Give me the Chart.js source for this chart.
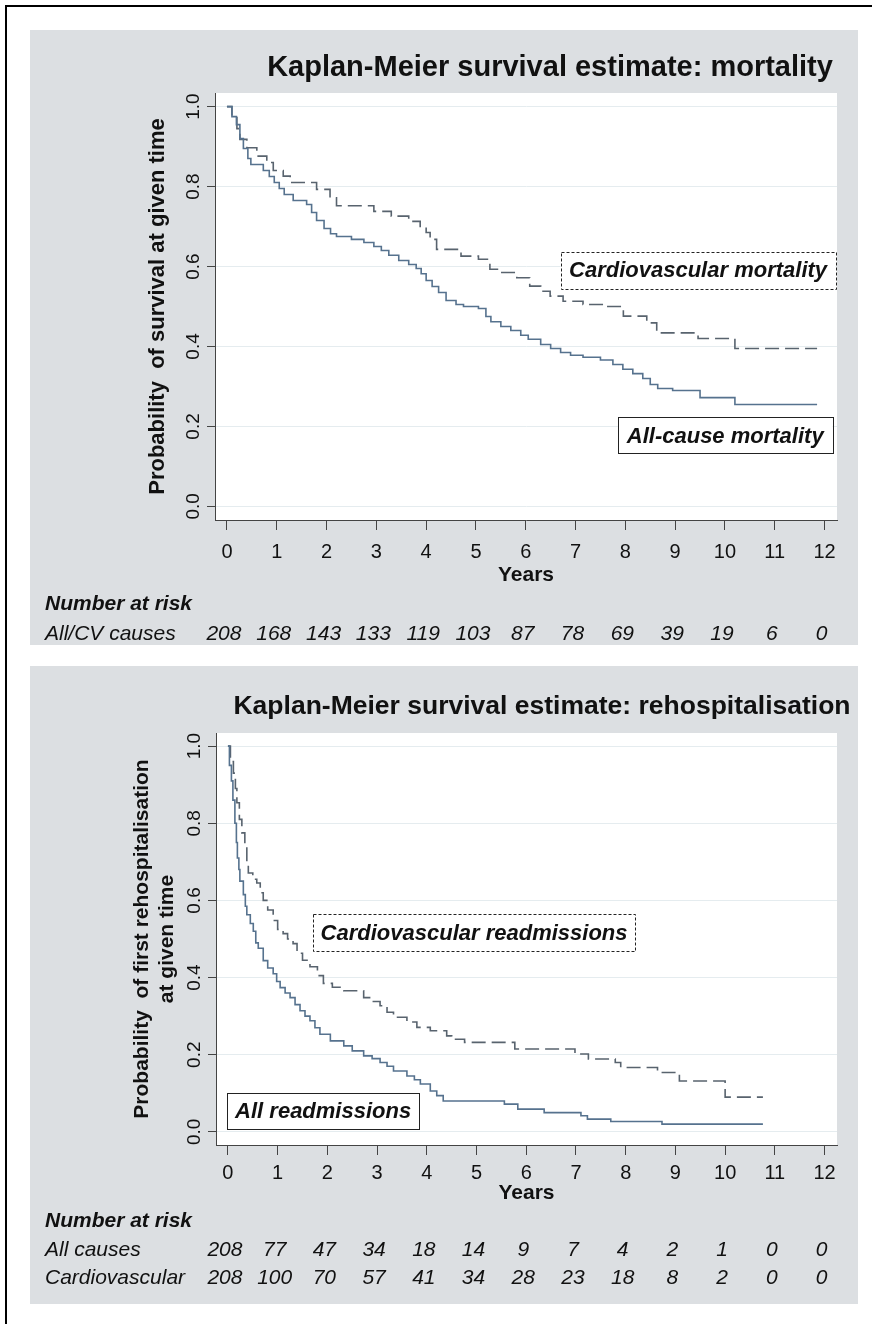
<!DOCTYPE html>
<html>
<head>
<meta charset="utf-8">
<script src="https://cdn.jsdelivr.net/npm/chart.js@4.4.0/dist/chart.umd.min.js"></script>
<style>
body { margin: 0; background: #fff; width: 872px; height: 1324px; position: relative; overflow: hidden; }
.line { position: absolute; background: #000; }
.panel { position: absolute; left: 30px; width: 828px; background: #dcdfe2; }
canvas { display: block; }
</style>
</head>
<body>
<div class="line" style="left:5px;top:5px;width:867px;height:2px"></div>
<div class="line" style="left:5px;top:5px;width:2px;height:1319px"></div>
<div class="panel" style="top:30px;height:615px"><canvas id="c1" width="828" height="615"></canvas></div>
<div class="panel" style="top:666px;height:638px"><canvas id="c2" width="828" height="638"></canvas></div>
<script>
var FONT = '"Liberation Sans", Arial, sans-serif';

var years = [0, 1, 2, 3, 4, 5, 6, 7, 8, 9, 10, 11, 12];
var yTicks = [0, 0.2, 0.4, 0.6, 0.8, 1.0];

// mortality, all causes (time of drop, survival after drop)
var allCauseTime = [0, 0.1, 0.19, 0.26, 0.33, 0.42, 0.48, 0.73, 0.85, 0.95, 1.05, 1.15, 1.33, 1.6, 1.7, 1.8, 1.95, 2.08, 2.2, 2.5, 2.75, 2.95, 3.1, 3.25, 3.45, 3.65, 3.8, 3.9, 4.0, 4.12, 4.25, 4.4, 4.6, 4.75, 5.05, 5.2, 5.3, 5.5, 5.7, 5.9, 6.05, 6.3, 6.5, 6.7, 6.9, 7.15, 7.5, 7.75, 7.95, 8.15, 8.35, 8.5, 8.65, 8.95, 9.5, 10.2, 11.85];
var allCauseSurv = [1.0, 0.975, 0.955, 0.92, 0.895, 0.87, 0.855, 0.84, 0.825, 0.81, 0.795, 0.78, 0.765, 0.755, 0.735, 0.715, 0.695, 0.682, 0.675, 0.668, 0.66, 0.65, 0.64, 0.628, 0.615, 0.605, 0.595, 0.582, 0.565, 0.55, 0.535, 0.515, 0.505, 0.5, 0.495, 0.475, 0.462, 0.45, 0.44, 0.428, 0.418, 0.405, 0.395, 0.385, 0.378, 0.373, 0.366, 0.355, 0.343, 0.332, 0.32, 0.305, 0.295, 0.29, 0.272, 0.255, 0.255];

// mortality, cardiovascular
var cvMortTime = [0, 0.1, 0.2, 0.26, 0.4, 0.6, 0.8, 0.93, 1.13, 1.27, 1.8, 2.07, 2.2, 2.95, 3.3, 3.65, 3.88, 4.0, 4.08, 4.21, 4.7, 5.05, 5.28, 5.5, 5.82, 6.08, 6.3, 6.49, 6.75, 7.15, 7.62, 7.96, 8.43, 8.63, 9.46, 10.2, 11.85];
var cvMortSurv = [1.0, 0.975, 0.945, 0.918, 0.897, 0.876, 0.86, 0.84, 0.826, 0.81, 0.793, 0.772, 0.752, 0.738, 0.726, 0.713, 0.7, 0.685, 0.668, 0.643, 0.626, 0.618, 0.593, 0.585, 0.572, 0.551, 0.538, 0.526, 0.513, 0.505, 0.5, 0.476, 0.459, 0.434, 0.42, 0.395, 0.395];

// first rehospitalisation, all causes
var allReadmTime = [0, 0.03, 0.07, 0.1, 0.14, 0.17, 0.19, 0.22, 0.24, 0.31, 0.35, 0.38, 0.45, 0.51, 0.56, 0.61, 0.71, 0.8, 0.91, 0.98, 1.05, 1.15, 1.25, 1.35, 1.45, 1.55, 1.65, 1.75, 1.85, 2.06, 2.33, 2.5, 2.73, 2.9, 3.06, 3.2, 3.33, 3.6, 3.75, 3.87, 4.07, 4.2, 4.33, 5.56, 5.83, 6.36, 7.1, 7.23, 7.7, 8.73, 10.76];
var allReadmSurv = [1.0, 0.95, 0.91, 0.86, 0.8, 0.75, 0.71, 0.68, 0.65, 0.615, 0.585, 0.563, 0.54, 0.52, 0.49, 0.476, 0.444, 0.425, 0.41, 0.39, 0.374, 0.36, 0.348, 0.33, 0.314, 0.3, 0.288, 0.27, 0.253, 0.236, 0.223, 0.21, 0.197, 0.19, 0.18, 0.17, 0.158, 0.145, 0.135, 0.124, 0.106, 0.094, 0.08, 0.072, 0.059, 0.05, 0.042, 0.033, 0.027, 0.02, 0.02];

// first rehospitalisation, cardiovascular
var cvReadmTime = [0, 0.05, 0.11, 0.15, 0.18, 0.23, 0.28, 0.34, 0.38, 0.41, 0.5, 0.58, 0.65, 0.71, 0.8, 0.91, 1.0, 1.11, 1.2, 1.31, 1.39, 1.5, 1.65, 1.8, 1.92, 2.1, 2.33, 2.73, 2.9, 3.06, 3.2, 3.33, 3.6, 3.8, 4.07, 4.4, 4.5, 4.76, 5.77, 6.98, 7.25, 7.79, 7.9, 8.64, 9.08, 10.0, 10.76];
var cvReadmSurv = [1.0, 0.96, 0.93, 0.89, 0.853, 0.81, 0.775, 0.74, 0.7, 0.671, 0.655, 0.645, 0.62, 0.6, 0.575, 0.548, 0.525, 0.514, 0.5, 0.488, 0.463, 0.445, 0.428, 0.405, 0.385, 0.375, 0.366, 0.348, 0.338, 0.327, 0.31, 0.297, 0.285, 0.271, 0.262, 0.249, 0.24, 0.232, 0.215, 0.202, 0.189, 0.18, 0.167, 0.154, 0.132, 0.09, 0.09];

// number at risk
var riskMortality = [208, 168, 143, 133, 119, 103, 87, 78, 69, 39, 19, 6, 0];
var riskAllReadm = [208, 77, 47, 34, 18, 14, 9, 7, 4, 2, 1, 0, 0];
var riskCvReadm = [208, 100, 70, 57, 41, 34, 28, 23, 18, 8, 2, 0, 0];

var toPoints = function (t, s) {
    return t.map(function (v, i) { return { x: v, y: s[i] }; });
};

var solidColor = "#56728e";
var dashColor = "#58636e";

var extras = {
    id: "extras",
    beforeDraw: function (chart) {
        var a = chart.chartArea;
        var ctx = chart.ctx;
        ctx.save();
        ctx.fillStyle = "#fff";
        ctx.fillRect(a.left, a.top, a.right - a.left, a.bottom - a.top);
        ctx.restore();
    },
    afterDraw: function (chart, args, o) {
        var ctx = chart.ctx;
        var xs = chart.scales.x;
        var ys = chart.scales.y;
        ctx.save();
        ctx.fillStyle = "#111";
        ctx.textBaseline = "middle";

        ctx.font = "bold " + o.titleSize + "px " + FONT;
        ctx.textAlign = "center";
        ctx.fillText(o.title, o.titleX, o.titleY);

        ctx.font = "italic bold 21px " + FONT;
        ctx.textAlign = "left";
        ctx.fillText("Number at risk", 15, o.headY);
        o.rows.forEach(function (r, k) {
            ctx.font = "italic 21px " + FONT;
            ctx.textAlign = "left";
            ctx.fillText(r.label, 15, o.rowY[k]);
            ctx.textAlign = "center";
            r.values.forEach(function (v, i) {
                ctx.fillText(String(v), xs.getPixelForValue(years[i]) - 3, o.rowY[k]);
            });
        });

        o.boxes.forEach(function (b) {
            var x0 = xs.getPixelForValue(b.x0), x1 = xs.getPixelForValue(b.x1);
            var y0 = ys.getPixelForValue(b.y0), y1 = ys.getPixelForValue(b.y1);
            ctx.fillStyle = "#fff";
            ctx.fillRect(x0, y0, x1 - x0, y1 - y0);
            ctx.strokeStyle = "#222";
            ctx.lineWidth = 1;
            ctx.setLineDash(b.dash ? [3, 2] : []);
            ctx.strokeRect(Math.round(x0) + 0.5, Math.round(y0) + 0.5, Math.round(x1 - x0), Math.round(y1 - y0));
            ctx.setLineDash([]);
            ctx.fillStyle = "#111";
            ctx.font = "italic bold 22px " + FONT;
            ctx.textAlign = "center";
            ctx.fillText(b.text, (x0 + x1) / 2, (y0 + y1) / 2 + 1);
        });
        ctx.restore();
    },
};

var makeChart = function (id, datasets, c, panel) {
    return new Chart(document.getElementById(id).getContext("2d"), {
        type: "line",
        data: { datasets: datasets },
        options: {
            responsive: false,
            animation: false,
            devicePixelRatio: 1,
            events: [],
            layout: { padding: c.pad },
            elements: { point: { radius: 0 }, line: { tension: 0 } },
            scales: {
                x: {
                    type: "linear",
                    min: -0.24,
                    max: 12.25,
                    afterBuildTicks: function (s) { s.ticks = years.map(function (v) { return { value: v }; }); },
                    afterFit: function (s) { s.height = 70; },
                    grid: { display: true, drawOnChartArea: false, drawTicks: true, tickLength: 10, tickColor: "#444", tickWidth: 1 },
                    border: { display: true, color: "#444", width: 1 },
                    ticks: { color: "#111", font: { size: 20, family: FONT }, padding: c.xTickPad, maxRotation: 0, minRotation: 0, autoSkip: false },
                    title: { display: true, text: "Years", color: "#111", font: { size: 21, weight: "bold", family: FONT }, padding: { top: 0, bottom: c.yearsPad } },
                },
                y: {
                    min: -0.034,
                    max: 1.034,
                    afterBuildTicks: function (s) { s.ticks = yTicks.map(function (v) { return { value: v }; }); },
                    afterFit: function (s) { s.width = c.yWidth; },
                    grid: { color: "#e5ecef", tickColor: "#444", tickLength: 8, tickWidth: 1, lineWidth: 1 },
                    border: { display: true, color: "#444", width: 1 },
                    ticks: {
                        color: "#111",
                        font: { size: 19, family: FONT },
                        padding: 0,
                        minRotation: 90,
                        maxRotation: 90,
                        crossAlign: "center",
                        callback: function (v) { return v.toFixed(1); },
                    },
                    title: { display: true, text: c.yTitle, color: "#111", font: c.yTitleFont, padding: { top: c.yTitlePad, bottom: 0 } },
                },
            },
            plugins: {
                legend: { display: false },
                title: { display: false },
                tooltip: { enabled: false },
                extras: panel,
            },
        },
        plugins: [extras],
    });
};

var chart1 = makeChart(
    "c1",
    [
        { data: toPoints(allCauseTime, allCauseSurv), stepped: "before", borderColor: solidColor, borderWidth: 1.6, fill: false },
        { data: toPoints(cvMortTime, cvMortSurv), stepped: "before", borderColor: dashColor, borderWidth: 1.6, borderDash: [14, 6], fill: false },
    ],
    {
        yTitle: "Probability  of survival at given time",
        yTitleFont: { size: 22, weight: "bold", family: FONT, lineHeight: 1.2 },
        yTitlePad: 15,
        pad: { left: 100, top: 63, right: 21, bottom: 55 },
        yWidth: 85,
        xTickPad: 10,
        yearsPad: 2,
    },
    {
        title: "Kaplan-Meier survival estimate: mortality",
        titleSize: 29,
        titleX: 520,
        titleY: 38,
        headY: 574,
        rowY: [604],
        rows: [{ label: "All/CV causes", values: riskMortality }],
        boxes: [
            { text: "Cardiovascular mortality", dash: true, x0: 6.7, x1: 12.22, y0: 0.6375, y1: 0.545 },
            { text: "All-cause mortality", dash: false, x0: 7.85, x1: 12.16, y0: 0.2225, y1: 0.1325 },
        ],
    }
);

var chart2 = makeChart(
    "c2",
    [
        { data: toPoints(allReadmTime, allReadmSurv), stepped: "before", borderColor: solidColor, borderWidth: 1.6, fill: false },
        { data: toPoints(cvReadmTime, cvReadmSurv), stepped: "before", borderColor: dashColor, borderWidth: 1.6, borderDash: [14, 6], fill: false },
    ],
    {
        yTitle: ["Probability  of first rehospitalisation", "at given time"],
        yTitleFont: { size: 21, weight: "bold", family: FONT, lineHeight: 1.19 },
        yTitlePad: 0,
        pad: { left: 100, top: 67, right: 21, bottom: 89 },
        yWidth: 86,
        xTickPad: 6,
        yearsPad: 9,
    },
    {
        title: "Kaplan-Meier survival estimate: rehospitalisation",
        titleSize: 26.5,
        titleX: 512,
        titleY: 41,
        headY: 555,
        rowY: [584, 612],
        rows: [
            { label: "All causes", values: riskAllReadm },
            { label: "Cardiovascular", values: riskCvReadm },
        ],
        boxes: [
            { text: "Cardiovascular readmissions", dash: true, x0: 1.71, x1: 8.19, y0: 0.564, y1: 0.468 },
            { text: "All readmissions", dash: false, x0: -0.02, x1: 3.85, y0: 0.101, y1: 0.008 },
        ],
    }
);
</script>
</body>
</html>
